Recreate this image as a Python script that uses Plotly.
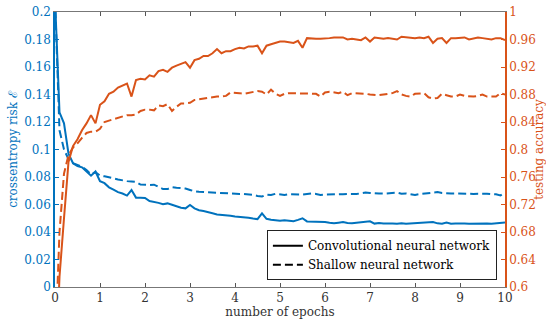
import plotly.graph_objects as go

epochs = [i / 10 for i in range(101)]

cnn_loss = [0.21, 0.127, 0.119, 0.097, 0.090, 0.088, 0.087, 0.084, 0.081, 0.084,
            0.077, 0.0755, 0.0725, 0.0708, 0.069, 0.068, 0.0665, 0.0705, 0.065, 0.065,
            0.0648, 0.0625, 0.062, 0.0612, 0.0602, 0.0608, 0.0598, 0.0585, 0.0576, 0.0572,
            0.0596, 0.0572, 0.0558, 0.0552, 0.0546, 0.0536, 0.0528, 0.0526, 0.0522, 0.0518,
            0.0512, 0.051, 0.0508, 0.0504, 0.0498, 0.0494, 0.0536, 0.0496, 0.0489, 0.0484,
            0.0481, 0.0486, 0.0484, 0.0479, 0.0488, 0.0500, 0.0477, 0.0477, 0.0474, 0.0473,
            0.0472, 0.0467, 0.0464, 0.0468, 0.0472, 0.0466, 0.0463, 0.0468, 0.0472, 0.0474,
            0.0478, 0.0461, 0.0465, 0.0462, 0.0464, 0.0462, 0.0460, 0.0463, 0.0460, 0.0462,
            0.0464, 0.0462, 0.0464, 0.0466, 0.0472, 0.0463, 0.0460, 0.0469, 0.0460, 0.0462,
            0.0464, 0.0462, 0.0460, 0.0461, 0.0464, 0.0463, 0.0461, 0.0460, 0.0462, 0.0466,
            0.047]

shallow_loss = [0.21, 0.114, 0.100, 0.093, 0.090, 0.0885, 0.0875, 0.085, 0.082, 0.0835,
                0.081, 0.0805, 0.0795, 0.079, 0.0782, 0.0775, 0.0770, 0.0768, 0.0765, 0.0745,
                0.0742, 0.0742, 0.0744, 0.0728, 0.0712, 0.0712, 0.0726, 0.0722, 0.0718, 0.0716,
                0.0706, 0.0695, 0.0692, 0.0690, 0.0686, 0.0684, 0.0683, 0.0681, 0.0680, 0.0680,
                0.0679, 0.0677, 0.0676, 0.0675, 0.0670, 0.0662, 0.0658, 0.0672, 0.0669, 0.0678,
                0.0672, 0.0670, 0.0675, 0.0673, 0.0670, 0.0672, 0.0676, 0.0680, 0.0677, 0.0670,
                0.0672, 0.0674, 0.0676, 0.0674, 0.0675, 0.0676, 0.0675, 0.0676, 0.0682, 0.0687,
                0.0684, 0.0680, 0.0680, 0.0679, 0.0681, 0.0684, 0.0686, 0.0678, 0.0680, 0.0675,
                0.0670, 0.0676, 0.0680, 0.0684, 0.0688, 0.0690, 0.0684, 0.0680, 0.0680, 0.0680,
                0.0679, 0.0677, 0.0675, 0.0677, 0.0679, 0.0680, 0.0678, 0.0675, 0.0674, 0.0666,
                0.0687]

cnn_acc = [0.45, 0.615, 0.70, 0.782, 0.805, 0.815, 0.828, 0.838, 0.850, 0.838,
           0.865, 0.870, 0.881, 0.884, 0.890, 0.893, 0.896, 0.877, 0.901, 0.903,
           0.902, 0.908, 0.906, 0.914, 0.916, 0.913, 0.919, 0.922, 0.924, 0.927,
           0.919, 0.930, 0.932, 0.936, 0.936, 0.940, 0.946, 0.940, 0.943, 0.943,
           0.946, 0.948, 0.947, 0.950, 0.950, 0.951, 0.940, 0.951, 0.953, 0.955,
           0.957, 0.957, 0.956, 0.955, 0.958, 0.948, 0.962, 0.961, 0.961, 0.961,
           0.961, 0.962, 0.963, 0.963, 0.963, 0.960, 0.961, 0.960, 0.959, 0.963,
           0.957, 0.963, 0.962, 0.961, 0.962, 0.961, 0.960, 0.964, 0.963, 0.962,
           0.962, 0.963, 0.962, 0.964, 0.955, 0.961, 0.962, 0.955, 0.962, 0.962,
           0.962, 0.963, 0.960, 0.961, 0.963, 0.962, 0.961, 0.960, 0.962, 0.962,
           0.959]

shallow_acc = [0.50, 0.68, 0.765, 0.792, 0.803, 0.809, 0.817, 0.824, 0.826, 0.826,
               0.830, 0.840, 0.842, 0.844, 0.847, 0.849, 0.850, 0.850, 0.851, 0.856,
               0.858, 0.858, 0.857, 0.864, 0.863, 0.866, 0.856, 0.862, 0.867, 0.867,
               0.868, 0.872, 0.873, 0.874, 0.875, 0.877, 0.877, 0.877, 0.878, 0.883,
               0.883, 0.882, 0.881, 0.882, 0.884, 0.885, 0.884, 0.880, 0.887, 0.881,
               0.878, 0.881, 0.882, 0.882, 0.882, 0.882, 0.882, 0.882, 0.881, 0.877,
               0.883, 0.884, 0.883, 0.882, 0.884, 0.879, 0.882, 0.882, 0.882, 0.881,
               0.880, 0.879, 0.879, 0.880, 0.881, 0.882, 0.885, 0.880, 0.878, 0.877,
               0.881, 0.882, 0.882, 0.876, 0.874, 0.875, 0.881, 0.879, 0.877, 0.877,
               0.880, 0.878, 0.877, 0.877, 0.878, 0.880, 0.877, 0.877, 0.877, 0.882,
               0.880]

x_ticks = list(range(0, 11))
loss_ticks = [round(0.02 * i, 2) for i in range(11)]
loss_tick_labels = ["0", "0.02", "0.04", "0.06", "0.08", "0.1", "0.12", "0.14", "0.16", "0.18", "0.2"]
acc_ticks = [round(0.6 + 0.04 * i, 2) for i in range(11)]
acc_tick_labels = ["0.6", "0.64", "0.68", "0.72", "0.76", "0.8", "0.84", "0.88", "0.92", "0.96", "1"]

legend_names = ["Convolutional neural network", "Shallow neural network"]

BLUE = "#0072BD"
ORANGE = "#D95319"
FONT = "DejaVu Serif, serif"
DASH = "8px,4px"
LW = 2
FS = 12

fig = go.Figure()
fig.add_trace(go.Scatter(x=epochs, y=cnn_loss, mode="lines", line=dict(color=BLUE, width=LW),
                         showlegend=False, yaxis="y"))
fig.add_trace(go.Scatter(x=epochs, y=shallow_loss, mode="lines", line=dict(color=BLUE, width=LW, dash=DASH),
                         showlegend=False, yaxis="y"))
fig.add_trace(go.Scatter(x=epochs, y=cnn_acc, mode="lines", line=dict(color=ORANGE, width=LW),
                         showlegend=False, yaxis="y2"))
fig.add_trace(go.Scatter(x=epochs, y=shallow_acc, mode="lines", line=dict(color=ORANGE, width=LW, dash=DASH),
                         showlegend=False, yaxis="y2"))
# legend entries (black)
fig.add_trace(go.Scatter(x=[None], y=[None], mode="lines", line=dict(color="black", width=LW),
                         name=legend_names[0], yaxis="y"))
fig.add_trace(go.Scatter(x=[None], y=[None], mode="lines", line=dict(color="black", width=LW, dash=DASH),
                         name=legend_names[1], yaxis="y"))

fig.update_layout(
    width=546, height=322,
    margin=dict(l=55, r=41, t=12, b=35, autoexpand=False),
    paper_bgcolor="white", plot_bgcolor="white",
    font=dict(family=FONT, size=FS, color="#262626"),
    xaxis=dict(range=[0, 10], tickvals=x_ticks, ticks="inside", ticklen=4, tickcolor="#555",
               showline=True, linecolor="#777", linewidth=1, mirror="ticks", showgrid=False,
               zeroline=False, tickfont=dict(color="#333", size=FS), automargin=False,
               title=dict(text="number of epochs", font=dict(size=FS, color="#333"), standoff=2)),
    yaxis=dict(range=[0, 0.2], tickvals=loss_ticks, ticktext=loss_tick_labels, ticks="inside",
               ticklen=4, tickcolor=BLUE, showline=True, linecolor=BLUE, linewidth=1.5,
               showgrid=False, zeroline=False, tickfont=dict(color=BLUE, size=FS), automargin=False,
               title=dict(text="crossentropy risk ℰ", font=dict(size=FS, color=BLUE), standoff=4)),
    yaxis2=dict(range=[0.6, 1], tickvals=acc_ticks, ticktext=acc_tick_labels, ticks="inside",
                ticklen=4, tickcolor=ORANGE, showline=True, linecolor=ORANGE, linewidth=1.5,
                overlaying="y", side="right", showgrid=False, zeroline=False, automargin=False,
                tickfont=dict(color=ORANGE, size=FS),
                title=dict(text="testing accuracy", font=dict(size=FS, color=ORANGE), standoff=2)),
    legend=dict(x=0.982, y=0.025, xanchor="right", yanchor="bottom", bgcolor="white",
                bordercolor="#222", borderwidth=1, font=dict(size=FS, color="black"),
                tracegroupgap=0, itemwidth=30),
)

fig.write_html("out.html", config={"displayModeBar": False},
               post_script="document.body.style.margin='0';window.dispatchEvent(new Event('resize'));")
